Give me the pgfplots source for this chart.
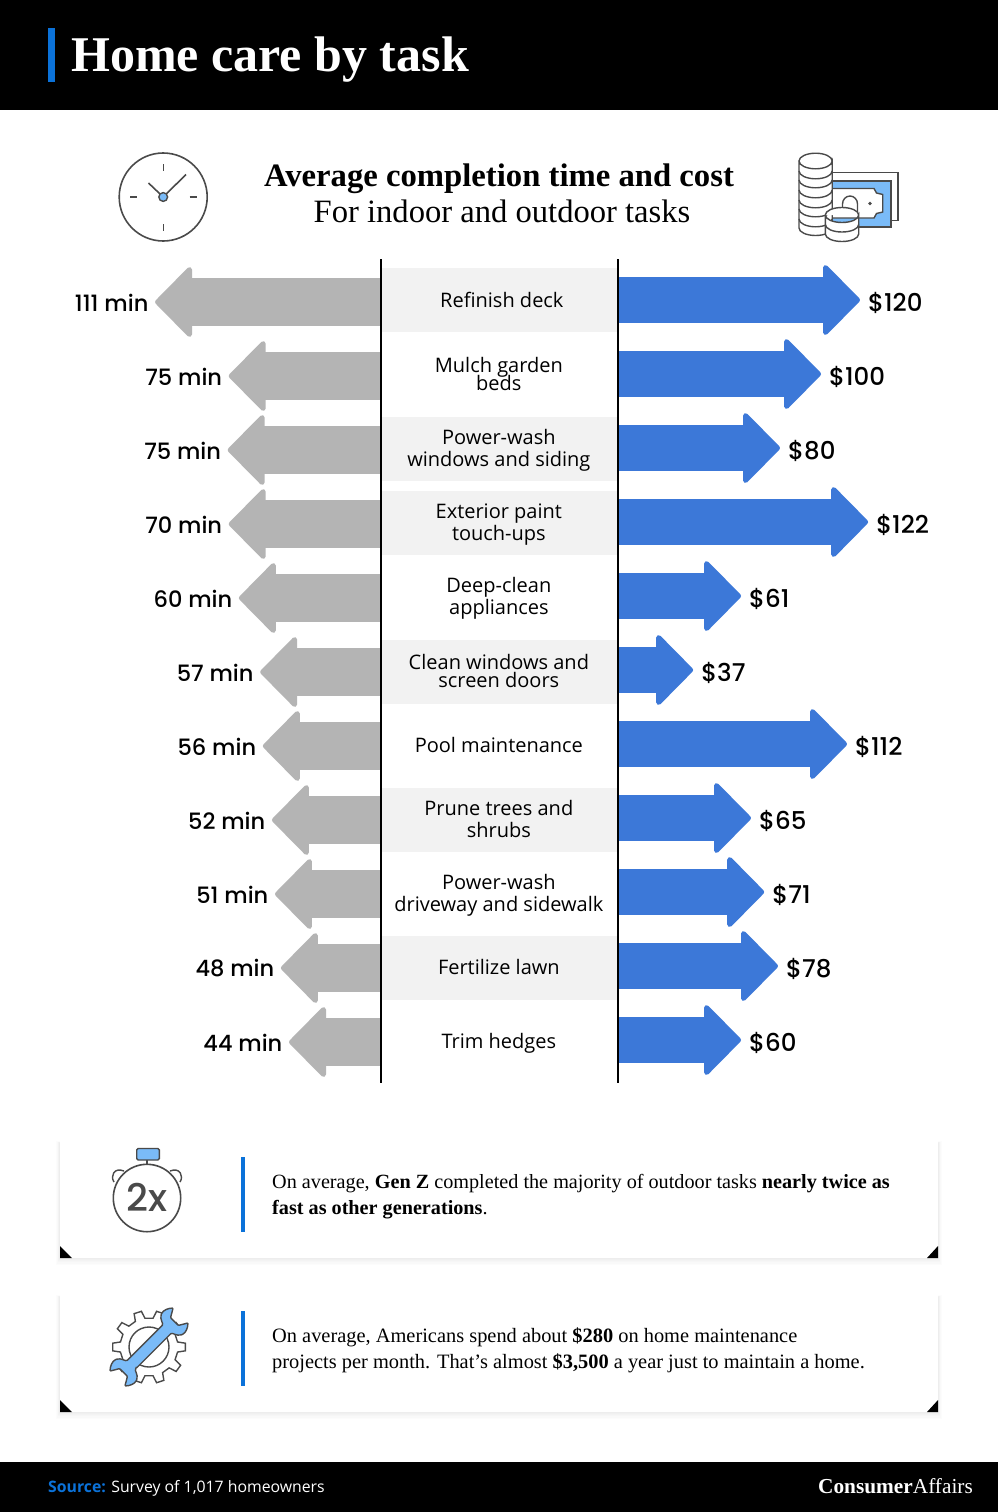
\documentclass[border=0pt]{standalone}
\usepackage{fontspec}
\usepackage{pgfplots}
\usepackage{pgfplotstable}
\pgfplotsset{compat=1.18}
\usetikzlibrary{arrows.meta}
\setmainfont{Liberation Serif}
\newfontfamily\sans{Open Sans}
\newfontfamily\val{Poppins}[UprightFont=* Medium]
\definecolor{hblue}{HTML}{0B72D9}
\definecolor{abar}{HTML}{3C78D8}
\definecolor{gbar}{HTML}{B4B4B4}
\definecolor{band}{HTML}{F2F2F2}
\definecolor{ilight}{HTML}{7ABBF8}
\definecolor{idark}{HTML}{4A4A4A}
\pgfplotstableread{
y x u label
0 0 111.3 111
1 0 75 75
2 0 75.5 75
3 0 75 70
4 0 70 60
5 0 59.5 57
6 0 58.2 56
7 0 53.7 52
8 0 52.2 51
9 0 49.3 48
10 0 45.3 44
}\timedata
\pgfplotstableread{
y x u label
0 0 119.2 120
1 0 100 100
2 0 79.8 80
3 0 123.2 122
4 0 60.6 61
5 0 37 37
6 0 112.8 112
7 0 65.5 65
8 0 72 71
9 0 78.8 78
10 0 60.6 60
}\costdata
\begin{document}
\begin{tikzpicture}
\useasboundingbox (0,0) rectangle (998pt,-1512pt);
\begin{scope}[x=1pt,y=-1pt]
\fill[white] (0,0) rectangle (998,1512);
\fill[black] (0,0) rectangle (998,110);
\fill[black] (0,1462) rectangle (998,1512);
\fill[hblue] (48,28) rectangle (55,81.5);
\node[anchor=base west,inner sep=0pt,text=white] at (71,71) {\fontsize{50}{50}\selectfont\bfseries Home care by task};
\node[anchor=base,inner sep=0pt] at (499,186) {\fontsize{32.7}{33}\selectfont\bfseries Average completion time and cost};
\node[anchor=base,inner sep=0pt] at (502,222) {\fontsize{32.6}{33}\selectfont For indoor and outdoor tasks};
% clock
\draw[idark,line width=1.6pt] (163.2,197) circle (44);
\draw[idark,line width=1.4pt] (163.2,164)--(163.2,171) (163.2,224)--(163.2,230.5) (130,197)--(137,197) (189.5,197)--(196.5,197);
\draw[idark,line width=1.6pt] (163.2,197)--(186,174.5) (163.2,197)--(148.5,183);
\draw[idark,fill=ilight,line width=1.4pt] (163.2,197) circle (4.4);
% money icon
\draw[idark,line width=1.4pt,fill=white] (832,172.7) rectangle (898,220.7);
\draw[idark,line width=1.6pt,fill=ilight] (832,180.7) rectangle (890.7,226.7);
\draw[idark,line width=1.4pt,fill=white] (832,188.5) -- (874,188.5) -- (876.5,193) -- (882.7,194.5) -- (882.7,212) -- (876.5,213.5) -- (874,218) -- (832,218) -- cycle;
\fill[idark] (870,203.5) circle (1.8);
\draw[idark,line width=1.4pt] (842.5,212) -- (842.5,204) arc[start angle=180,end angle=360,x radius=7.5,y radius=8] -- (857.5,212);
\draw[idark,line width=1.4pt,fill=white] (799,161) -- (799,228) arc[start angle=180,end angle=0,x radius=16.6,y radius=7.5] -- (832.2,161) arc[start angle=0,end angle=360,x radius=16.6,y radius=7.8];
\foreach \yy in {171,180,190,200,209,219}{
\draw[idark,line width=1.4pt] (799,\yy) arc[start angle=180,end angle=0,x radius=16.6,y radius=7.8];}
\draw[idark,line width=1.4pt,fill=white] (825.3,215) -- (825.3,234) arc[start angle=180,end angle=0,x radius=16.7,y radius=7.5] -- (858.7,215) arc[start angle=0,end angle=360,x radius=16.7,y radius=7.5];
\draw[idark,line width=1.4pt] (825.3,224.5) arc[start angle=180,end angle=0,x radius=16.7,y radius=7.5];
% bands
\foreach \r/\o in {0/268,2/416.7,3/490.7,5/639.5,7/787.5,9/935.5}{
\fill[band] (382,\o) rectangle (617,\o+64);}
% cards
\foreach \t in {1138,1292}{
\foreach \k in {1,...,6}{
\fill[black,opacity=0.012] (60-\k*0.6,\t+5-\k*0.3) rectangle (938+\k*0.6,\t+120+\k*1.1);}
\fill[white] (60,\t) rectangle (938,\t+120);
\fill[black] (60,\t+108) -- (60,\t+120) -- (72,\t+120) -- cycle;
\fill[black] (938,\t+108) -- (938,\t+120) -- (927,\t+120) -- cycle;
\fill[hblue] (240.5,\t+19) rectangle (244.5,\t+94);}
\node[anchor=base west,inner sep=0pt] at (272,1188) {\fontsize{20.2}{21}\selectfont On average, \textbf{Gen Z} completed the majority of outdoor tasks \textbf{nearly twice as}};
\node[anchor=base west,inner sep=0pt] at (272,1214) {\fontsize{20.2}{21}\selectfont\textbf{fast as other generations}.};
\node[anchor=base west,inner sep=0pt] at (272,1342) {\fontsize{20.4}{21}\selectfont On average, Americans spend about \textbf{\$280} on home maintenance};
\node[anchor=base west,inner sep=0pt] at (272,1368) {\fontsize{20.4}{21}\selectfont projects per month. That's almost \textbf{\$3,500} a year just to maintain a home.};
% stopwatch
\draw[idark,line width=1.6pt] (147,1198) circle (33.7);
\draw[idark,line width=1.4pt] (147,1160)--(147,1164.5);
\draw[idark,line width=1.4pt,fill=ilight,rounded corners=1.5] (136.7,1148.5) rectangle (159.3,1160);
\draw[idark,line width=1.4pt] (114,1182) .. controls (110,1176) and (114,1167) .. (124,1171);
\draw[idark,line width=1.4pt] (180,1182) .. controls (184,1176) and (180,1167) .. (170,1171);
\node[text=idark,inner sep=0pt] at (147,1197) {\fontsize{38}{38}\selectfont\val 2x};
% gear and wrench
\begin{scope}[shift={(149,1347)}]
\draw[idark,line width=1.4pt,fill=white] (-10:29) \foreach \a in {0,36,...,324}{ -- (\a-10:29) -- (\a-6:36.5) -- (\a+6:36.5) -- (\a+10:29)} -- cycle;
\draw[idark,line width=1.4pt] (0,0) circle (20);
\begin{scope}[rotate=45]
\draw[idark,line width=1.4pt,fill=ilight,rounded corners=0.8] (-24,6) -- (24,6) .. controls (27,6) and (27,12) .. (32,14.5) .. controls (36,16) and (41,14) .. (44.5,10.5) -- (36,5.5) -- (36,-5.5) -- (44.5,-10.5) .. controls (41,-14) and (36,-16) .. (32,-14.5) .. controls (27,-12) and (27,-6) .. (24,-6) -- (-24,-6) .. controls (-27,-6) and (-27,-12) .. (-32,-14.5) .. controls (-36,-16) and (-41,-14) .. (-44.5,-10.5) -- (-36,-5.5) -- (-36,5.5) -- (-44.5,10.5) .. controls (-41,14) and (-36,16) .. (-32,14.5) .. controls (-27,12) and (-27,6) .. (-24,6) -- cycle;
\end{scope}
\end{scope}
% footer
\node[anchor=base west,inner sep=0pt,text=white] at (48,1492) {\fontsize{15.8}{16}\selectfont\sans\textcolor{hblue}{\bfseries Source:} Survey of 1,017 homeowners};
\node[anchor=base east,inner sep=0pt,text=white] at (973,1493) {\fontsize{21.3}{21}\selectfont\textbf{Consumer}Affairs};
\end{scope}
% left panel: minutes
\begin{axis}[
  at={(60pt,-1083pt)},anchor=south west,scale only axis,
  width=321pt,height=824pt,
  x dir=reverse,y dir=reverse,
  xmin=0,xmax=158.13,ymin=-0.581,ymax=10.554,
  axis x line=none,axis y line=right,
  axis line style={-,black,line width=2pt},
  ytick=\empty,xtick=\empty,clip=false,axis on top,
]
\addplot[gbar,no marks,line width=48pt,
  quiver={u=\thisrow{u},v=0},
  -{Triangle[width=76pt,length=38pt,line width=5pt,round]}]
  table[x=x,y=y] {\timedata};
\addplot[draw=none,no marks,point meta=explicit symbolic,
  nodes near coords={\pgfplotspointmeta\ min},
  every node near coord/.append style={anchor=east,xshift=-6.5pt,yshift=-0.5pt,inner sep=0pt,text=black,font=\fontsize{22.5}{24}\selectfont\val}]
  table[x=u,y=y,meta=label] {\timedata};
\end{axis}
% right panel: cost, with the task names as tick labels
\begin{axis}[
  at={(618pt,-1083pt)},anchor=south west,scale only axis,
  width=320pt,height=824pt,
  y dir=reverse,
  xmin=0,xmax=157.64,ymin=-0.554,ymax=10.581,
  axis x line=none,axis y line=left,
  axis line style={-,black,line width=2pt},
  xtick=\empty,ytick={0,1,2.03,3.04,4.03,5.01,6.01,7.01,8.04,9.01,10.05},tick style={draw=none},
  yticklabels={{\hspace*{6pt}Refinish deck},{Mulch garden\\[-4pt]beds},{Power-wash\\windows and siding},{Exterior paint\\touch-ups},{Deep-clean\\appliances},{Clean windows and\\[-4pt]screen doors},{Pool maintenance},{Prune trees and\\shrubs},{Power-wash\\driveway and sidewalk},{Fertilize lawn},{Trim hedges}},
  yticklabel style={anchor=center,align=center,xshift=-117pt,inner sep=0pt,font=\fontsize{20}{22}\selectfont\sans},
  clip=false,axis on top,
]
\addplot[abar,no marks,line width=46pt,
  quiver={u=\thisrow{u},v=0},
  -{Triangle[width=76pt,length=38pt,line width=5pt,round]}]
  table[x=x,y=y] {\costdata};
\addplot[draw=none,no marks,point meta=explicit symbolic,
  nodes near coords={\$\pgfplotspointmeta},
  every node near coord/.append style={anchor=west,xshift=8pt,yshift=-3pt,inner sep=0pt,text=black,font=\fontsize{24.5}{25}\selectfont\val}]
  table[x=u,y=y,meta=label] {\costdata};
\end{axis}
\end{tikzpicture}
\end{document}
